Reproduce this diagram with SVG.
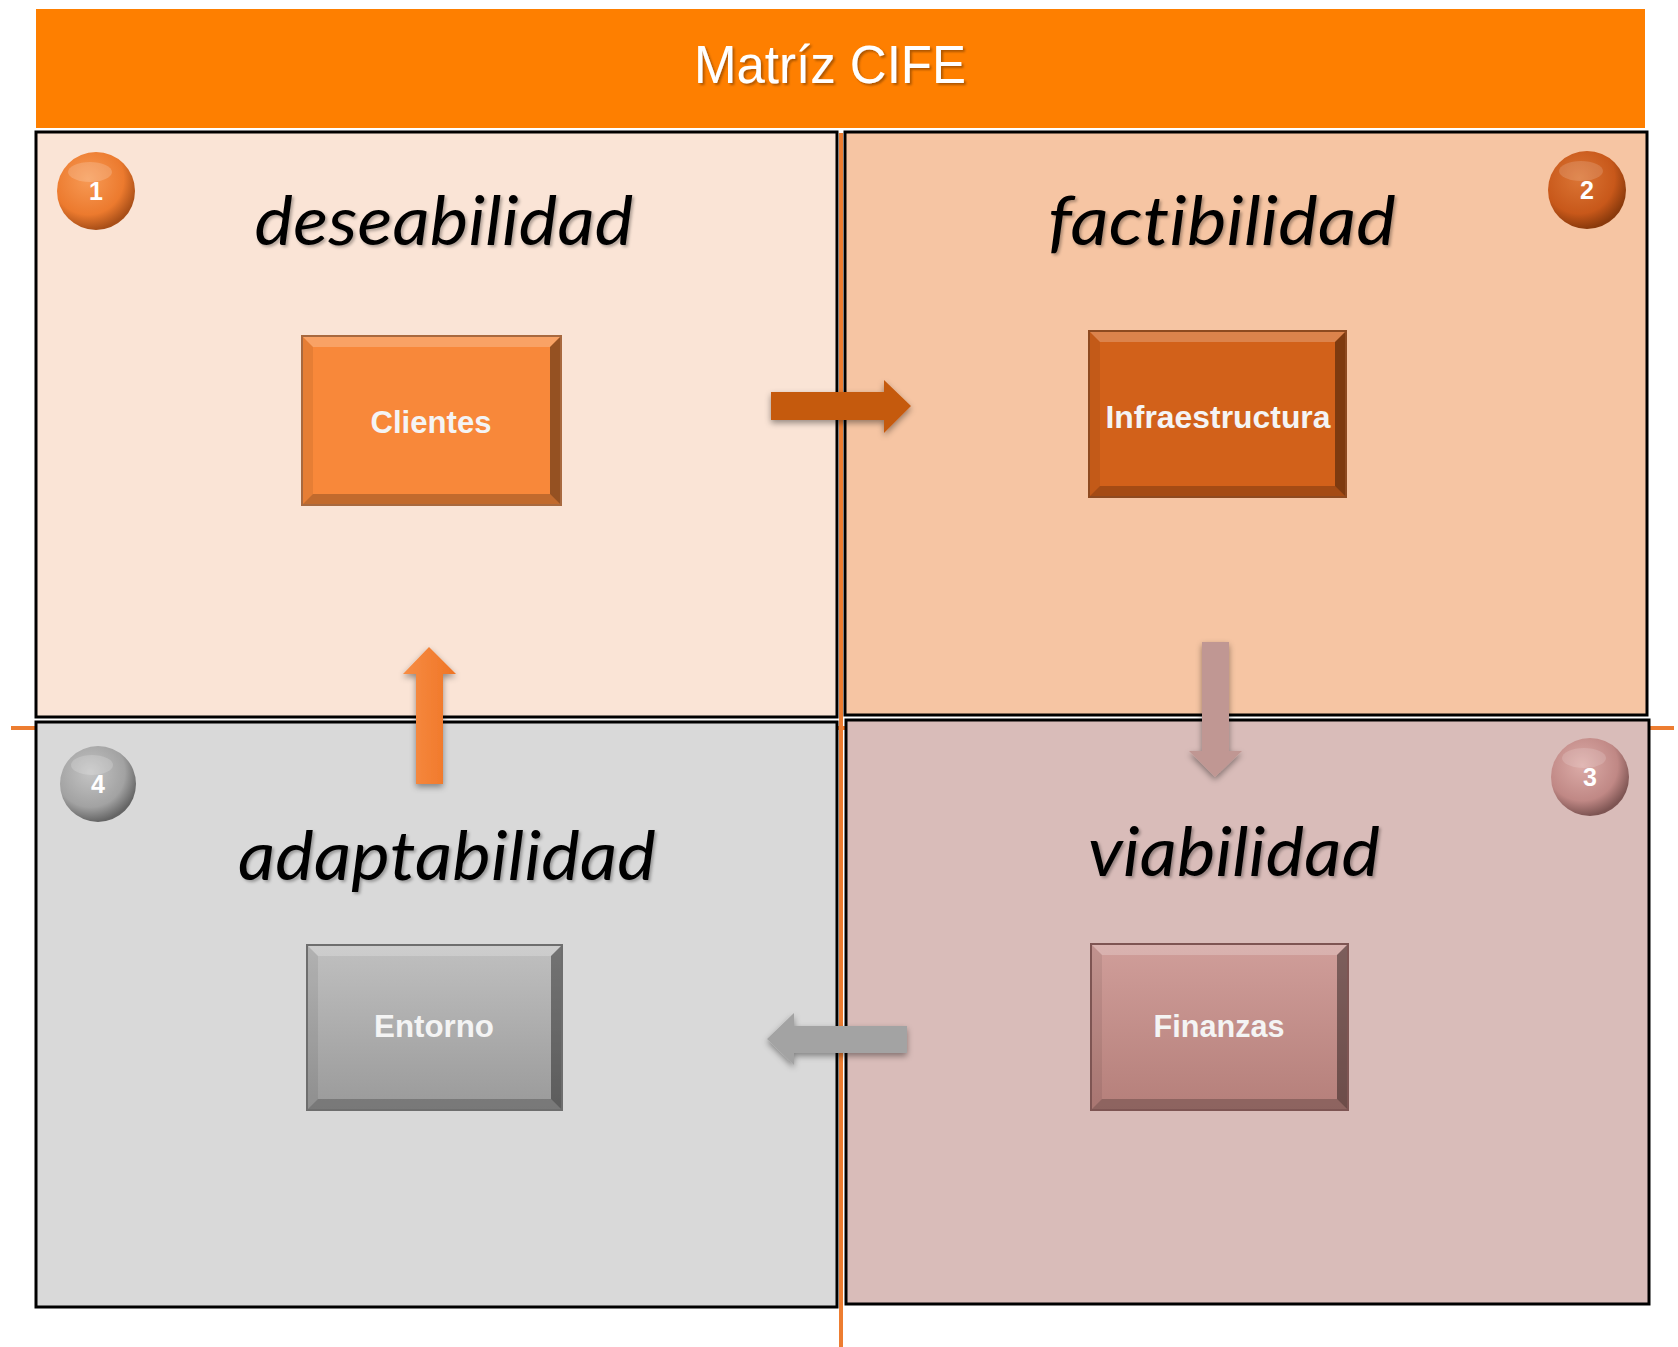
<svg xmlns="http://www.w3.org/2000/svg" width="1678" height="1347" viewBox="0 0 1678 1347">
<style>
.quad{stroke:#000;stroke-width:3}
.title{font-family:"Lato","Open Sans","DejaVu Sans",sans-serif;font-style:italic;font-size:68px;fill:#000;text-anchor:middle;font-variant-ligatures:none;font-feature-settings:"liga" 0,"clig" 0;letter-spacing:0.2px}
.boxtxt{font-family:"Liberation Sans",Arial,sans-serif;font-weight:bold;font-size:32px;fill:#F4F4F4;text-anchor:middle}
.num{font-family:"Liberation Sans",Arial,sans-serif;font-weight:bold;font-size:25px;fill:#FFFFFF;text-anchor:middle}
.guide{stroke:#ED7D31;stroke-width:4;fill:none}
.hl{fill:#FFFFFF;opacity:0.22}
.dk{fill:#000000;opacity:0.22}
.dk2{fill:#000000;opacity:0.4}
.lf{fill:#000000;opacity:0.07}
</style>
<defs>
<filter id="sh" x="-20%" y="-20%" width="140%" height="150%">
<feDropShadow dx="0" dy="3" stdDeviation="3" flood-color="#000" flood-opacity="0.4"/>
</filter>
<filter id="tsh" x="-5%" y="-20%" width="110%" height="140%">
<feDropShadow dx="2" dy="2" stdDeviation="1.5" flood-color="#000" flood-opacity="0.3"/>
</filter>
<filter id="hsh" x="-5%" y="-20%" width="110%" height="140%">
<feDropShadow dx="2" dy="2" stdDeviation="1" flood-color="#7a3a00" flood-opacity="0.6"/>
</filter>
<linearGradient id="gEnt" x1="0" y1="0" x2="0" y2="1">
<stop offset="0" stop-color="#C0C0C0"/><stop offset="1" stop-color="#9A9A9A"/>
</linearGradient>
<linearGradient id="gFin" x1="0" y1="0" x2="0" y2="1">
<stop offset="0" stop-color="#D09E9A"/><stop offset="1" stop-color="#B57F7A"/>
</linearGradient>
<linearGradient id="gUp" x1="0" y1="0" x2="1" y2="0">
<stop offset="0" stop-color="#F78D45"/><stop offset="1" stop-color="#EF7424"/>
</linearGradient>
<radialGradient id="c1" cx="0.4" cy="0.35" r="0.65">
<stop offset="0" stop-color="#F79A55"/><stop offset="0.7" stop-color="#EC7A2E"/><stop offset="1" stop-color="#A94F18"/>
</radialGradient>
<radialGradient id="c2" cx="0.4" cy="0.35" r="0.65">
<stop offset="0" stop-color="#DB7535"/><stop offset="0.7" stop-color="#C8581A"/><stop offset="1" stop-color="#8A3A0C"/>
</radialGradient>
<radialGradient id="c3" cx="0.4" cy="0.35" r="0.65">
<stop offset="0" stop-color="#DCACA8"/><stop offset="0.7" stop-color="#C08885"/><stop offset="1" stop-color="#7E5553"/>
</radialGradient>
<radialGradient id="c4" cx="0.4" cy="0.35" r="0.65">
<stop offset="0" stop-color="#C4C4C4"/><stop offset="0.7" stop-color="#A2A2A2"/><stop offset="1" stop-color="#656565"/>
</radialGradient>
</defs>

<rect width="1678" height="1347" fill="#FFFFFF"/>

<g id="guides">
<line class="guide" x1="841" y1="133" x2="841" y2="1347"/>
<line class="guide" x1="11" y1="728" x2="1674" y2="728"/>
</g>

<g id="header">
<rect x="36" y="9" width="1609" height="119" fill="#FE7F00"/>
<text x="830" y="83" font-family="'Liberation Sans',Arial,sans-serif" font-size="53" fill="#FFFFFF" text-anchor="middle" textLength="272" lengthAdjust="spacingAndGlyphs" filter="url(#hsh)">Matríz CIFE</text>
</g>

<g id="q1">
<rect class="quad" x="36" y="132" width="801" height="585" fill="#FAE4D6"/>
<text class="title" x="444" y="245" textLength="379" lengthAdjust="spacingAndGlyphs" filter="url(#tsh)">deseabilidad</text>
</g>
<g id="q2">
<rect class="quad" x="845" y="132" width="802" height="583" fill="#F6C5A3"/>
<text class="title" x="1222" y="245" textLength="348" lengthAdjust="spacingAndGlyphs" filter="url(#tsh)">factibilidad</text>
</g>
<g id="q4">
<rect class="quad" x="36" y="722" width="801" height="585" fill="#D9D9D9"/>
<text class="title" x="447" y="880" textLength="418" lengthAdjust="spacingAndGlyphs" filter="url(#tsh)">adaptabilidad</text>
</g>
<g id="q3">
<rect class="quad" x="846" y="720" width="803" height="584" fill="#D9BCB9"/>
<text class="title" x="1234" y="876" textLength="292" lengthAdjust="spacingAndGlyphs" filter="url(#tsh)">viabilidad</text>
</g>

<g id="badge1">
<circle cx="96" cy="191" r="39" fill="url(#c1)"/>
<ellipse cx="90" cy="172" rx="22" ry="10" fill="#FFFFFF" opacity="0.18"/>
<text class="num" x="96" y="200">1</text>
</g>
<g id="badge2">
<circle cx="1587" cy="190" r="39" fill="url(#c2)"/>
<ellipse cx="1581" cy="171" rx="22" ry="10" fill="#FFFFFF" opacity="0.15"/>
<text class="num" x="1587" y="199">2</text>
</g>
<g id="badge3">
<circle cx="1590" cy="777" r="39" fill="url(#c3)"/>
<ellipse cx="1584" cy="758" rx="22" ry="10" fill="#FFFFFF" opacity="0.15"/>
<text class="num" x="1590" y="786">3</text>
</g>
<g id="badge4">
<circle cx="98" cy="784" r="38" fill="url(#c4)"/>
<ellipse cx="92" cy="765" rx="21" ry="10" fill="#FFFFFF" opacity="0.18"/>
<text class="num" x="98" y="793">4</text>
</g>

<g id="clientes">
<rect x="302" y="336" width="259" height="169" fill="#F8883A" stroke="#A8693F" stroke-width="2"/>
<polygon class="hl" points="303,337 560,337 550,347 313,347"/>
<polygon class="lf" points="303,337 313,347 313,494 303,504"/>
<polygon class="dk" points="303,504 313,494 550,494 560,504"/>
<polygon class="dk2" points="560,337 560,504 550,494 550,347"/>
<text class="boxtxt" x="431" y="433" textLength="121" lengthAdjust="spacingAndGlyphs">Clientes</text>
</g>

<g id="infraestructura">
<rect x="1089" y="331" width="257" height="166" fill="#D2611A" stroke="#8E4A20" stroke-width="2"/>
<polygon class="hl" points="1090,332 1345,332 1335,342 1100,342"/>
<polygon class="lf" points="1090,332 1100,342 1100,486 1090,496"/>
<polygon class="dk" points="1090,496 1100,486 1335,486 1345,496"/>
<polygon class="dk2" points="1345,332 1345,496 1335,486 1335,342"/>
<text class="boxtxt" x="1218" y="428" textLength="225" lengthAdjust="spacingAndGlyphs">Infraestructura</text>
</g>

<g id="entorno">
<rect x="307" y="945" width="255" height="165" fill="url(#gEnt)" stroke="#6E6E6E" stroke-width="2"/>
<polygon class="hl" points="308,946 561,946 551,956 318,956"/>
<polygon class="lf" points="308,946 318,956 318,1099 308,1109"/>
<polygon class="dk" points="308,1109 318,1099 551,1099 561,1109"/>
<polygon class="dk2" points="561,946 561,1109 551,1099 551,956"/>
<text class="boxtxt" x="434" y="1037" textLength="120" lengthAdjust="spacingAndGlyphs">Entorno</text>
</g>

<g id="finanzas">
<rect x="1091" y="944" width="257" height="166" fill="url(#gFin)" stroke="#7E5553" stroke-width="2"/>
<polygon class="hl" points="1092,945 1347,945 1337,955 1102,955"/>
<polygon class="lf" points="1092,945 1102,955 1102,1099 1092,1109"/>
<polygon class="dk" points="1092,1109 1102,1099 1337,1099 1347,1109"/>
<polygon class="dk2" points="1347,945 1347,1109 1337,1099 1337,955"/>
<text class="boxtxt" x="1219" y="1037" textLength="131" lengthAdjust="spacingAndGlyphs">Finanzas</text>
</g>

<g id="connectors">
<polygon filter="url(#sh)" fill="#C55A11" points="771,392 884,392 884,380 911,406 884,433 884,420 771,420"/>
<polygon filter="url(#sh)" fill="#C09793" points="1202,642 1229,642 1229,751 1242,751 1215,777 1189,751 1202,751"/>
<polygon filter="url(#sh)" fill="#A3A3A3" points="907,1026 794,1026 794,1013 767,1039 794,1065 794,1053 907,1053"/>
<polygon filter="url(#sh)" fill="url(#gUp)" points="416,784 416,674 403,674 429,647 456,674 443,674 443,784"/>
</g>
</svg>
